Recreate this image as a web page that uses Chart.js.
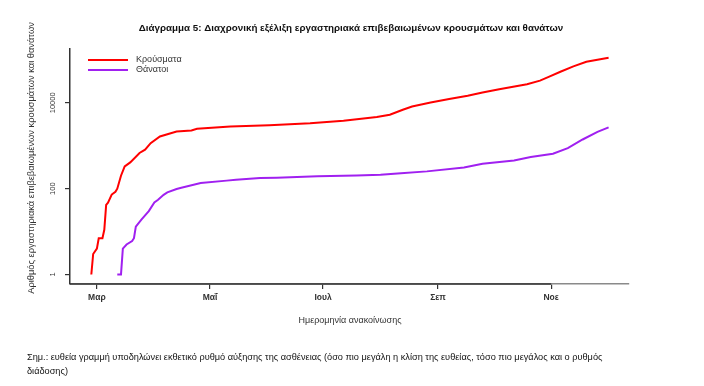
<!DOCTYPE html>
<html>
<head>
<meta charset="utf-8">
<script src="https://cdn.jsdelivr.net/npm/chart.js@4.4.1/dist/chart.umd.min.js"></script>
<style>
  html, body { margin: 0; padding: 0; background: #fff; }
  #wrap { position: relative; width: 704px; height: 386px; }
</style>
</head>
<body>
<div id="wrap"><canvas id="chart" width="704" height="386"></canvas></div>
<script>
// days counted from 1 March 2020
const caseDays   = [-3, -2, 0, 1, 3, 4, 5, 6, 8, 10, 11, 13, 15, 18, 23, 26, 29, 34, 43, 51,
                    54, 72, 93, 115, 133, 151, 158, 165, 170, 180, 190, 200, 208, 217, 232, 239, 244, 250, 257, 264, 276];
const caseValues = [1, 3, 4, 7, 7, 11, 42, 47, 73, 85, 100, 200, 330, 410, 680, 810, 1150, 1650, 2150, 2270,
                    2480, 2800, 3000, 3360, 3850, 4660, 5270, 6900, 8200, 10200, 12300, 14600, 17400, 20800, 27100, 33000, 41000, 53000, 71000, 91000, 113000];

const deathDays   = [11, 13, 14, 16, 19, 20, 21, 24, 28, 31, 33, 36, 38, 43, 45, 56, 70, 75, 88, 97,
                     119, 140, 153, 164, 178, 198, 208, 225, 234, 246, 254, 262, 270, 276];
const deathValues = [1, 1, 4, 5, 6, 7, 13, 19, 30, 48, 55, 72, 82, 98, 104, 135, 154, 162, 177, 180,
                     194, 203, 210, 230, 253, 313, 380, 455, 545, 650, 880, 1400, 2100, 2680];

const monthDays  = [0, 61, 122, 184, 245];
const monthNames = ['Μαρ', 'Μαΐ', 'Ιουλ', 'Σεπ', 'Νοε'];
const yTicks     = [1, 100, 10000];

const titleText = 'Διάγραμμα 5: Διαχρονική εξέλιξη εργαστηριακά επιβεβαιωμένων κρουσμάτων και θανάτων';
const yTitle = 'Αριθμός εργαστηριακά επιβεβαιωμένων κρουσμάτων και θανάτων';
const xTitle = 'Ημερομηνία ανακοίνωσης';
const noteLines = [
  'Σημ.: ευθεία γραμμή υποδηλώνει εκθετικό ρυθμό αύξησης της ασθένειας (όσο πιο μεγάλη η κλίση της ευθείας, τόσο πιο μεγάλος και ο ρυθμός',
  'διάδοσης)'
];

const FONT = '"Liberation Sans Narrow", "Liberation Sans", sans-serif';
const INK = '#333';

function toPoints(days, vals) {
  return days.map((d, i) => ({ x: d, y: vals[i] }));
}

// title, axis titles, legend and note
const decor = {
  id: 'decor',
  afterDraw(chart) {
    const ctx = chart.ctx;
    const area = chart.chartArea;
    const xs = chart.scales.x;
    ctx.save();

    // darker axis segment up to the last tick (R axis over box line)
    ctx.strokeStyle = INK;
    ctx.lineWidth = 1.5;
    ctx.beginPath();
    ctx.moveTo(area.left, area.bottom);
    ctx.lineTo(xs.getPixelForValue(monthDays[monthDays.length - 1]), area.bottom);
    ctx.stroke();

    ctx.fillStyle = '#111';
    ctx.textAlign = 'center';
    ctx.textBaseline = 'middle';
    ctx.font = 'bold 9.8px ' + FONT;
    ctx.fillText(titleText, 351, 28);

    ctx.fillStyle = INK;
    ctx.font = '9px ' + FONT;
    ctx.fillText(xTitle, 350, 321);

    ctx.save();
    ctx.translate(31, 158);
    ctx.rotate(-Math.PI / 2);
    ctx.font = '9.3px ' + FONT;
    ctx.fillText(yTitle, 0, 0);
    ctx.restore();

    // legend
    ctx.textAlign = 'left';
    ctx.font = '9px ' + FONT;
    chart.data.datasets.forEach((ds, i) => {
      const y = 60 + i * 10;
      ctx.strokeStyle = ds.borderColor;
      ctx.lineWidth = 2;
      ctx.beginPath();
      ctx.moveTo(88, y);
      ctx.lineTo(128, y);
      ctx.stroke();
      ctx.fillStyle = INK;
      ctx.fillText(ds.label, 136, y);
    });

    // note under the chart
    ctx.fillStyle = '#111';
    ctx.font = '9.2px ' + FONT;
    noteLines.forEach((t, i) => ctx.fillText(t, 27, 357 + i * 14));

    ctx.restore();
  }
};

new Chart(document.getElementById('chart'), {
  type: 'line',
  data: {
    datasets: [
      {
        label: 'Κρούσματα',
        data: toPoints(caseDays, caseValues),
        borderColor: '#ff0000',
        borderWidth: 2,
        pointRadius: 0,
        tension: 0
      },
      {
        label: 'Θάνατοι',
        data: toPoints(deathDays, deathValues),
        borderColor: '#a020f0',
        borderWidth: 2,
        pointRadius: 0,
        tension: 0
      }
    ]
  },
  options: {
    responsive: false,
    animation: false,
    devicePixelRatio: 1,
    layout: { padding: { left: 5, top: 49, right: 75, bottom: 62 } },
    plugins: {
      legend: { display: false },
      tooltip: { enabled: false }
    },
    scales: {
      x: {
        type: 'linear',
        min: -14.5,
        max: 287,
        afterBuildTicks: axis => { axis.ticks = monthDays.map(v => ({ value: v })); },
        afterFit: axis => { axis.height = 40; },
        ticks: {
          autoSkip: false,
          maxRotation: 0,
          padding: 4,
          color: INK,
          font: { size: 8.5, family: FONT, weight: 'bold' },
          callback: v => monthNames[monthDays.indexOf(v)]
        },
        grid: { drawOnChartArea: false, drawTicks: true, tickLength: 5, color: INK, lineWidth: 1.2 },
        border: { display: true, color: '#8a8a8a', width: 1.5 }
      },
      y: {
        type: 'logarithmic',
        min: 0.628,
        max: 180000,
        afterBuildTicks: axis => { axis.ticks = yTicks.map(v => ({ value: v })); },
        afterFit: axis => { axis.width = 65; },
        ticks: {
          minRotation: 90,
          maxRotation: 90,
          crossAlign: 'center',
          padding: 2,
          color: INK,
          font: { size: 7.5, family: FONT },
          callback: v => String(v)
        },
        grid: { drawOnChartArea: false, drawTicks: true, tickLength: 5, color: INK, lineWidth: 1.2 },
        border: { display: true, color: INK, width: 1.5 }
      }
    }
  },
  plugins: [decor]
});
</script>
</body>
</html>
